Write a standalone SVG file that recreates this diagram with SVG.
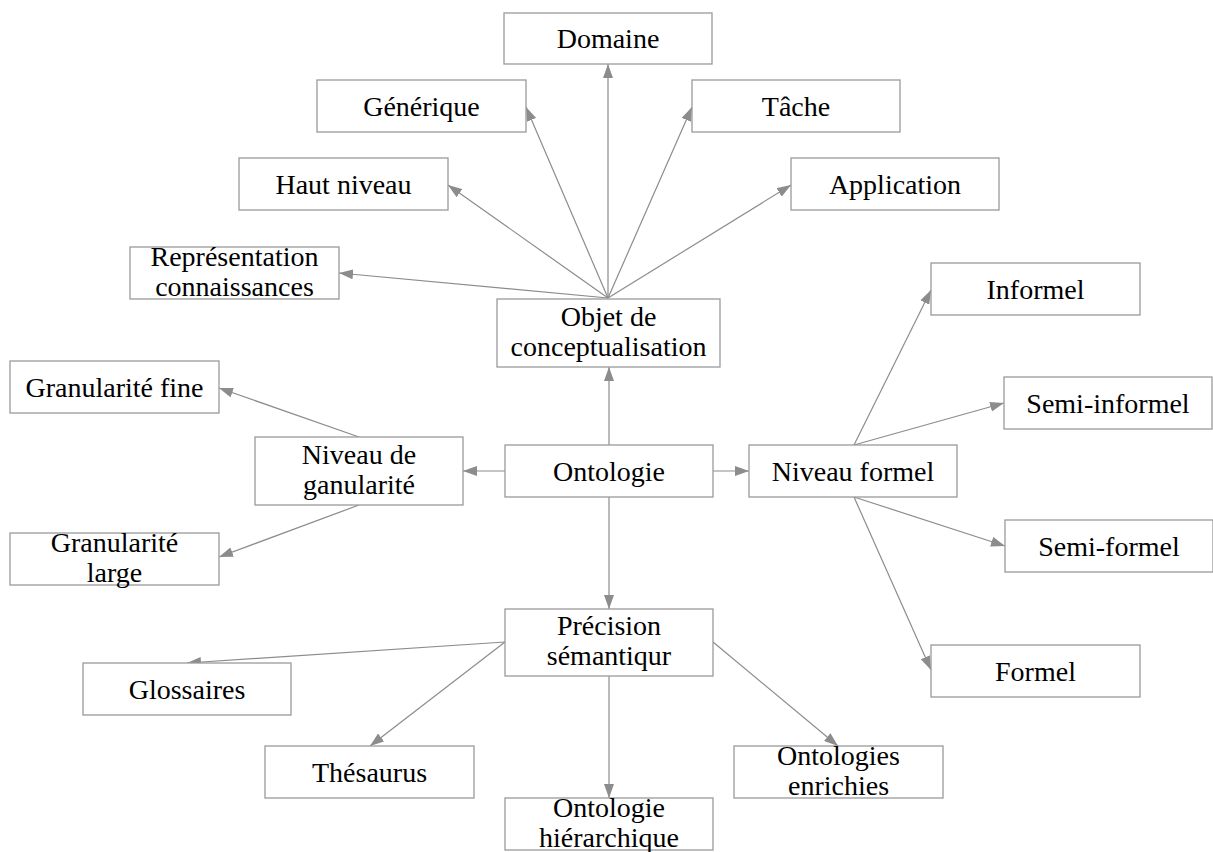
<svg xmlns="http://www.w3.org/2000/svg" width="1213" height="852" viewBox="0 0 1213 852">
<style>
.box{fill:#fff;stroke:#9a9a9a;stroke-width:1.3}
.t{font-family:"Liberation Serif","Times New Roman",serif;font-size:28px;fill:#000;text-anchor:middle}
.c{stroke:#8c8c8c;stroke-width:1.2;fill:none;marker-end:url(#ah)}
</style>
<defs>
<marker id="ah" markerUnits="userSpaceOnUse" markerWidth="14" markerHeight="10" refX="14" refY="5" orient="auto">
<path d="M0,0 L14,5 L0,10 z" fill="#8c8c8c"/>
</marker>
</defs>
<rect width="1213" height="852" fill="#fff"/>
<g id="connectors">
<line class="c" x1="608" y1="298" x2="608" y2="64"/>
<line class="c" x1="608" y1="298" x2="526" y2="107"/>
<line class="c" x1="608" y1="298" x2="692" y2="107"/>
<line class="c" x1="608" y1="298" x2="448" y2="185"/>
<line class="c" x1="608" y1="298" x2="791" y2="185"/>
<line class="c" x1="608" y1="298" x2="339" y2="273"/>
<line class="c" x1="609" y1="445" x2="609" y2="367"/>
<line class="c" x1="505" y1="471" x2="463" y2="471"/>
<line class="c" x1="713" y1="471" x2="749" y2="471"/>
<line class="c" x1="609" y1="497" x2="609" y2="609"/>
<line class="c" x1="359" y1="437" x2="219" y2="388"/>
<line class="c" x1="359" y1="505" x2="219" y2="557"/>
<line class="c" x1="854" y1="445" x2="931" y2="290"/>
<line class="c" x1="854" y1="445" x2="1004" y2="403"/>
<line class="c" x1="854" y1="497" x2="1005" y2="546"/>
<line class="c" x1="854" y1="497" x2="931" y2="670"/>
<line class="c" x1="505" y1="642" x2="187" y2="663"/>
<line class="c" x1="505" y1="642" x2="370" y2="746"/>
<line class="c" x1="609" y1="676" x2="609" y2="798"/>
<line class="c" x1="713" y1="642" x2="838" y2="746"/>
</g>
<g id="domaine"><rect class="box" x="504" y="13" width="208" height="51"/><text class="t" x="608" y="48">Domaine</text></g>
<g id="generique"><rect class="box" x="317" y="80" width="209" height="52"/><text class="t" x="421.5" y="115.5">Générique</text></g>
<g id="tache"><rect class="box" x="692" y="80" width="208" height="52"/><text class="t" x="796" y="115.5">Tâche</text></g>
<g id="haut-niveau"><rect class="box" x="239" y="158" width="209" height="52"/><text class="t" x="343.5" y="193.5">Haut niveau</text></g>
<g id="application"><rect class="box" x="791" y="158" width="208" height="52"/><text class="t" x="895" y="193.5">Application</text></g>
<g id="representation"><rect class="box" x="130" y="247" width="209" height="52"/><text class="t" x="234.5" y="266">Représentation</text><text class="t" x="234.5" y="295.5">connaissances</text></g>
<g id="objet"><rect class="box" x="497" y="299" width="223" height="68"/><text class="t" x="608.5" y="325.5">Objet de</text><text class="t" x="608.5" y="356">conceptualisation</text></g>
<g id="informel"><rect class="box" x="931" y="263" width="209" height="52"/><text class="t" x="1035.5" y="298.5">Informel</text></g>
<g id="granularite-fine"><rect class="box" x="10" y="361" width="209" height="52"/><text class="t" x="114.5" y="396.5">Granularité fine</text></g>
<g id="semi-informel"><rect class="box" x="1004" y="377" width="208" height="52"/><text class="t" x="1108" y="412.5">Semi-informel</text></g>
<g id="niveau-granularite"><rect class="box" x="255" y="437" width="208" height="68"/><text class="t" x="359" y="463.5">Niveau de</text><text class="t" x="359" y="493.5">ganularité</text></g>
<g id="ontologie"><rect class="box" x="505" y="445" width="208" height="52"/><text class="t" x="609" y="480.5">Ontologie</text></g>
<g id="niveau-formel"><rect class="box" x="749" y="445" width="208" height="52"/><text class="t" x="853" y="480.5">Niveau formel</text></g>
<g id="semi-formel"><rect class="box" x="1005" y="520" width="208" height="52"/><text class="t" x="1109" y="555.5">Semi-formel</text></g>
<g id="granularite-large"><rect class="box" x="10" y="533" width="209" height="52"/><text class="t" x="114.5" y="552">Granularité</text><text class="t" x="114.5" y="581.5">large</text></g>
<g id="precision"><rect class="box" x="505" y="609" width="208" height="67"/><text class="t" x="609" y="635">Précision</text><text class="t" x="609" y="665">sémantiqur</text></g>
<g id="formel"><rect class="box" x="931" y="645" width="209" height="52"/><text class="t" x="1035.5" y="680.5">Formel</text></g>
<g id="glossaires"><rect class="box" x="83" y="663" width="208" height="52"/><text class="t" x="187" y="698.5">Glossaires</text></g>
<g id="thesaurus"><rect class="box" x="265" y="746" width="209" height="52"/><text class="t" x="369.5" y="781.5">Thésaurus</text></g>
<g id="ontologies-enrichies"><rect class="box" x="734" y="746" width="209" height="52"/><text class="t" x="838.5" y="765">Ontologies</text><text class="t" x="838.5" y="794.5">enrichies</text></g>
<g id="ontologie-hierarchique"><rect class="box" x="505" y="798" width="208" height="52"/><text class="t" x="609" y="817">Ontologie</text><text class="t" x="609" y="846.5">hiérarchique</text></g>
</svg>
